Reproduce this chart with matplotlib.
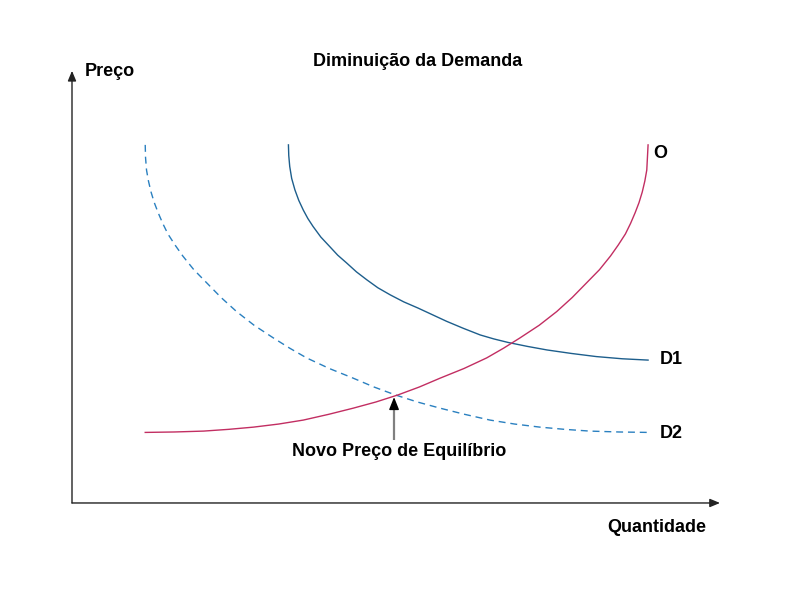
import matplotlib
matplotlib.use("Agg")
import matplotlib.pyplot as plt

plt.rcParams['font.family'] = ['Liberation Sans', 'DejaVu Sans']

# curves (quantity, price on a 0-100 scale)
d1_q = [33.4, 33.45, 33.6, 33.9, 34.4, 35.0, 35.7, 36.4, 37.2, 38.4, 39.8, 41.0, 42.4, 43.9, 45.5, 47.2,
        49.1, 51.2, 53.4, 55.6, 57.8, 60.4, 63.0, 65.1, 67.3, 70.3, 73.3, 77.1, 80.9, 84.9, 88.9]
d1_p = [81.2, 78.8, 76.3, 73.6, 71.0, 68.6, 66.4, 64.5, 62.7, 60.3, 58.1, 56.2, 54.4, 52.4, 50.6, 48.8,
        47.2, 45.6, 44.2, 42.7, 41.2, 39.6, 38.1, 37.2, 36.4, 35.5, 34.7, 33.9, 33.2, 32.7, 32.4]

d2_q = [11.3, 11.35, 11.5, 11.8, 12.2, 12.7, 13.3, 14.0, 14.8, 15.9, 17.1, 18.8, 20.8, 23.0, 25.4, 28.1,
        31.1, 33.6, 36.2, 39.7, 43.4, 46.6, 49.9, 53.3, 56.8, 60.6, 64.5, 68.3, 72.2, 76.0, 79.9, 84.4, 88.9]
d2_p = [81.2, 78.3, 75.5, 73.0, 70.5, 68.1, 65.8, 63.4, 61.0, 58.5, 56.0, 52.9, 49.9, 46.6, 43.4, 40.3,
        37.4, 35.1, 32.9, 30.5, 28.3, 26.3, 24.5, 22.9, 21.5, 20.1, 18.8, 17.9, 17.2, 16.7, 16.3, 16.1, 16.0]

o_q = [11.3, 15.8, 20.3, 24.2, 28.0, 31.9, 35.7, 39.6, 43.4, 46.9, 50.3, 53.6, 56.8, 60.5, 64.0, 66.6,
       69.1, 72.1, 74.8, 77.2, 79.4, 81.4, 83.1, 84.3, 85.4, 86.2, 86.9, 87.5, 88.0, 88.4, 88.7, 88.8, 88.9]
o_p = [16.0, 16.1, 16.3, 16.7, 17.2, 17.9, 18.8, 20.1, 21.5, 22.9, 24.5, 26.3, 28.3, 30.5, 32.9, 35.1,
       37.4, 40.3, 43.4, 46.6, 49.9, 52.9, 56.0, 58.5, 61.0, 63.4, 65.8, 68.1, 70.5, 73.0, 75.5, 78.3, 81.2]

# new equilibrium (D2 x O)
eq_q, eq_p = 49.7, 24.0

fig = plt.figure(figsize=(8, 6), dpi=100)
ax = fig.add_axes([0.09, 0.1617, 0.81, 0.735])
ax.set_xlim(0, 100)
ax.set_ylim(0, 100)
ax.axis('off')

# axes with arrow heads
axis_arrow = dict(arrowstyle='-|>,head_length=0.6,head_width=0.25', color='#222222', lw=1.0,
                  shrinkA=0, shrinkB=0)
ax.annotate('', xy=(0, 98), xytext=(0, 0), arrowprops=axis_arrow)
ax.annotate('', xy=(100, 0), xytext=(0, 0), arrowprops=axis_arrow)

ax.plot(d1_q, d1_p, color='#1d5e8c', lw=1.0, solid_joinstyle='round')
ax.plot(d2_q, d2_p, color='#2a80c0', lw=1.0, dashes=(5, 3.5))
ax.plot(o_q, o_p, color='#c22e62', lw=1.0, solid_joinstyle='round')

# arrow pointing at the new equilibrium: gray shaft, black head
ax.plot([eq_q, eq_q], [14.3, eq_p - 2.0], color='#808080', lw=1.6, solid_capstyle='butt')
ax.annotate('', xy=(eq_q, eq_p), xytext=(eq_q, eq_p - 2.5),
            arrowprops=dict(arrowstyle='-|>,head_length=0.75,head_width=0.3', color='black',
                            lw=1.0, shrinkA=0, shrinkB=0))

fs = 13
fig.text(418 / 800, 1 - 62 / 600, 'Diminuição da Demanda', ha='center', va='center',
         fontsize=fs, fontweight='bold')
fig.text(85 / 800, 1 - 72 / 600, 'Preço', ha='left', va='center', fontsize=fs, fontweight='bold')
fig.text(657 / 800, 1 - 527 / 600, 'Quantidade', ha='center', va='center', fontsize=fs, fontweight='bold')
fig.text(653 / 800, 1 - 153 / 600, 'O', ha='left', va='center', fontsize=fs, fontweight='bold')
fig.text(660 / 800, 1 - 360 / 600, 'D1', ha='left', va='center', fontsize=fs, fontweight='bold')
fig.text(660 / 800, 1 - 433 / 600, 'D2', ha='left', va='center', fontsize=fs, fontweight='bold')
fig.text(399 / 800, 1 - 452 / 600, 'Novo Preço de Equilíbrio', ha='center', va='center',
         fontsize=fs, fontweight='bold')

fig.savefig('out.png', dpi=100)
